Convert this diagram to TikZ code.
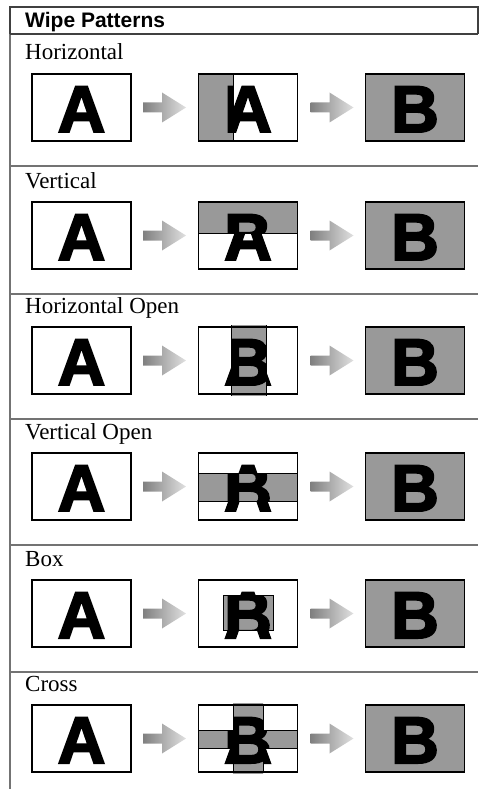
\documentclass[tikz,border=0pt]{standalone}
\usepackage{fontspec}
\setmainfont{Liberation Serif}
\newfontfamily\titlefont{Liberation Sans}
\newfontfamily\heavy[FakeBold=3]{Liberation Sans Bold}
\usetikzlibrary{calc}
\tikzset{
  frame/.style={draw=black!55, line width=1.2pt},
  topframe/.style={draw=black!75, line width=1.2pt},
  picbox/.style={draw=black, line width=1.5pt, minimum width=99pt, minimum height=67pt, inner sep=0pt, outer sep=0pt},
  wipefill/.style={fill=black!40},
  big/.style={font=\heavy\fontsize{66}{66}\selectfont, inner sep=0pt, anchor=base},
  lbl/.style={font=\fontsize{23}{23}\selectfont, anchor=base west, inner sep=0pt},
  arrowshade/.style={left color=black!50, right color=black!12},
  wipeedge/.style={draw=black, line width=1pt}
}
\newcommand\wiperow[3]{%
  \node[lbl] (lab#1) at (25,#2-14) {#3};
  \node[picbox, fill=white] (a#1) at (81.5,#2+33.5) {};
  \node[big] (la#1) at (81.5,#2+58) {A};
  \node[picbox, fill=black!40] (c#1) at (415,#2+33.5) {};
  \node[big] (lc#1) at (415,#2+58) {B};
  \shade[arrowshade] ($(a#1.east)+(12,-5)$) -- ++(19,0) -- ++(0,-10) -- ++(24,15) -- ++(-24,15) -- ++(0,-10) -- ++(-19,0) -- cycle;
  \shade[arrowshade] ($(c#1.west)+(-55,-5)$) -- ++(19,0) -- ++(0,-10) -- ++(24,15) -- ++(-24,15) -- ++(0,-10) -- ++(-19,0) -- cycle;
}
\newcommand\midbox[4]{% #1 name, #2 top, #3 clip region, #4 edge lines
  \begin{scope}[shift={(248,#2+33.5)}]
    \fill[white] (-49.5,-33.5) rectangle (49.5,33.5);
    \node[big] at (0,24.5) {A};
    \begin{scope}
      \clip #3;
      \fill[black!40] (-49.5,-35.5) rectangle (49.5,35.5);
      \node[big] at (0,24.5) {B};
    \end{scope}
    \draw[wipeedge] #4;
  \end{scope}
  \node[picbox] (b#1) at (248,#2+33.5) {};
}
\begin{document}
\begin{tikzpicture}[x=1pt,y=-1pt]
\useasboundingbox (0,0) rectangle (479,789);
% frame
\draw[frame] (10,789) -- (10,34);
\draw[topframe] (10,34) -- (10,7) -- (478,7) -- (478,34);
\draw[topframe] (10,34) -- (478,34);
\node[font=\titlefont\bfseries\fontsize{21}{21}\selectfont, anchor=base west, inner sep=0pt] (title) at (25,28) {Wipe Patterns};
\foreach \y in {166,294,419,545,672} {\draw[frame] (10,\y) -- (478,\y);}
% rows
\wiperow{1}{74}{Horizontal}
\midbox{1}{74}{(-49.5,-33.5) rectangle (-15,33.5)}{(-15,-33.5) -- (-15,33.5)}
\wiperow{2}{202}{Vertical}
\midbox{2}{202}{(-49.5,-33.5) rectangle (49.5,-2)}{(-49.5,-2) -- (49.5,-2)}
\wiperow{3}{327}{Horizontal Open}
\midbox{3}{327}{(-17,-35.5) rectangle (18,35.5)}{(-17,-35.5) -- (-17,35.5) (18,-35.5) -- (18,35.5)}
\wiperow{4}{453}{Vertical Open}
\midbox{4}{453}{(-49.5,-13.5) rectangle (49.5,14.5)}{(-49.5,-13.5) -- (49.5,-13.5) (-49.5,14.5) -- (49.5,14.5)}
\wiperow{5}{580}{Box}
\midbox{5}{580}{(-25,-18.5) rectangle (25,16.5)}{(-25,-18.5) rectangle (25,16.5)}
\wiperow{6}{705}{Cross}
\midbox{6}{705}{(-15,-35.5) rectangle (15,35.5) (-49.5,-8.5) rectangle (49.5,9.5)}{(-15,-33.5) -- (-15,-8.5) -- (-49.5,-8.5) (15,-33.5) -- (15,-8.5) -- (49.5,-8.5) (-49.5,9.5) -- (-15,9.5) -- (-15,33.5) (49.5,9.5) -- (15,9.5) -- (15,33.5)}
\end{tikzpicture}
\end{document}
